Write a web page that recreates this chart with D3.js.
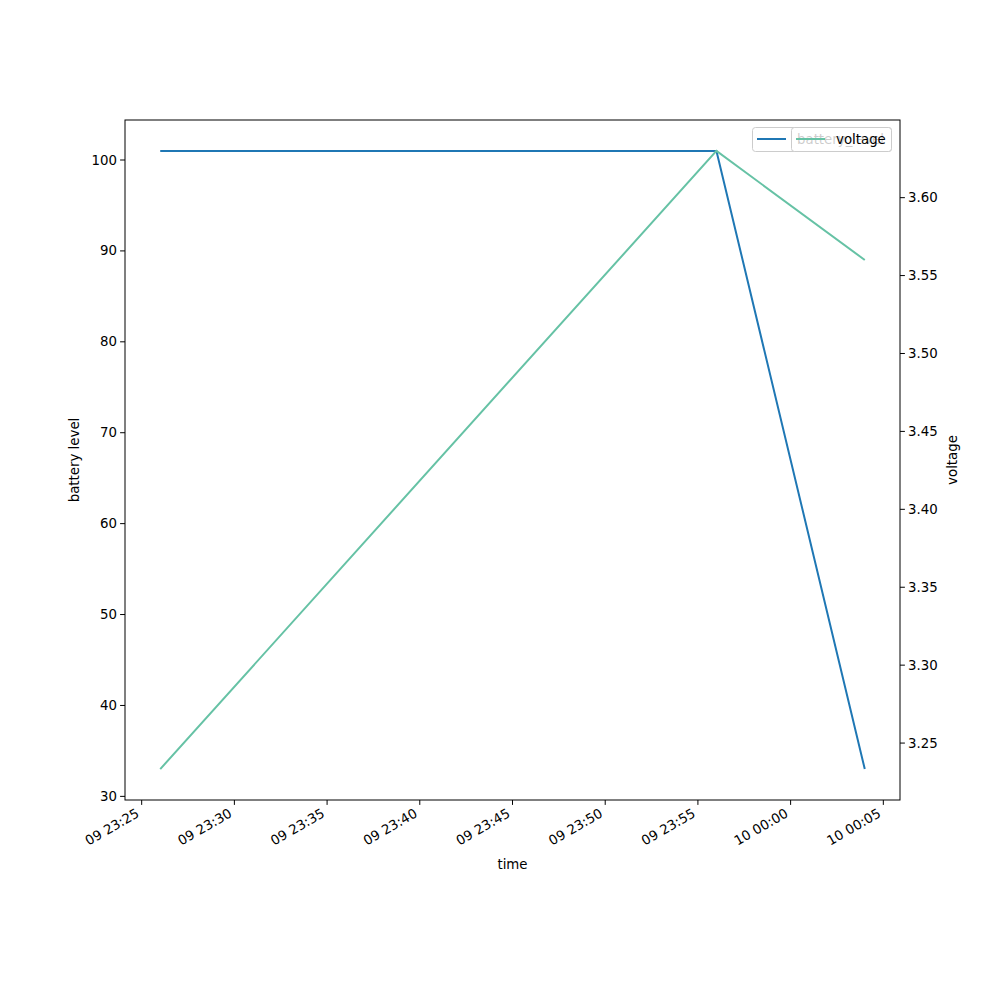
<!DOCTYPE html>
<html><head><meta charset="utf-8">
<script src="https://cdn.jsdelivr.net/npm/d3@7"></script>
<style>body{margin:0;background:#fff}svg{display:block}text{font-family:"DejaVu Sans",sans-serif}</style>
</head><body>
<svg id="c" width="1000" height="1000"></svg>
<script>
const times = ["2023-01-09T23:26:00","2023-01-09T23:56:00","2023-01-10T00:04:00"];
const batteryLevel = [101, 101, 33];
const voltage = [3.2333, 3.63, 3.56];
const xTicks = ["2023-01-09T23:25:00","2023-01-09T23:30:00","2023-01-09T23:35:00","2023-01-09T23:40:00","2023-01-09T23:45:00","2023-01-09T23:50:00","2023-01-09T23:55:00","2023-01-10T00:00:00","2023-01-10T00:05:00"];
const leftTicks = [30,40,50,60,70,80,90,100];
const rightTicks = [3.25,3.30,3.35,3.40,3.45,3.50,3.55,3.60];

const parse = d3.isoParse;
const T = times.map(parse);
const L = 125, R = 900, Tp = 120, B = 800;
const svg = d3.select("#c");
const fs = 13.33;

function pad(ext){const r=ext[1]-ext[0];return [ext[0]-0.05*r, ext[1]+0.05*r];}
const x = d3.scaleTime().domain(pad(d3.extent(T).map(Number)).map(v=>new Date(v))).range([L,R]);
const yL = d3.scaleLinear().domain(pad(d3.extent(batteryLevel))).range([B,Tp]);
const yR = d3.scaleLinear().domain(pad(d3.extent(voltage))).range([B,Tp]);

const blue = "#1f77b4", green = "#66c2a5";

// lines
const data = T.map((t,i)=>({t, b:batteryLevel[i], v:voltage[i]}));
svg.append("path").datum(data).attr("fill","none").attr("stroke",blue).attr("stroke-width",2)
  .attr("d", d3.line().x(d=>x(d.t)).y(d=>yL(d.b)));
svg.append("path").datum(data).attr("fill","none").attr("stroke",green).attr("stroke-width",2)
  .attr("d", d3.line().x(d=>x(d.t)).y(d=>yR(d.v)));

// frame
svg.append("rect").attr("x",L).attr("y",Tp).attr("width",R-L).attr("height",B-Tp)
  .attr("fill","none").attr("stroke","#000").attr("stroke-width",1);

// x axis
const fmt = d3.timeFormat("%d %H:%M");
const xg = svg.append("g");
xTicks.map(parse).forEach(t=>{
  const px = x(t);
  xg.append("line").attr("x1",px).attr("x2",px).attr("y1",B).attr("y2",B+4.9).attr("stroke","#000");
  xg.append("text").attr("transform",`translate(${px-1.5},${B+16}) rotate(-30)`)
    .attr("text-anchor","end").attr("font-size",fs).text(fmt(t));
});
svg.append("text").attr("x",(L+R)/2).attr("y",869).attr("text-anchor","middle").attr("font-size",fs).text("time");

// left axis
leftTicks.forEach(v=>{
  const py = yL(v);
  svg.append("line").attr("x1",L-4.9).attr("x2",L).attr("y1",py).attr("y2",py).attr("stroke","#000");
  svg.append("text").attr("x",L-8).attr("y",py).attr("text-anchor","end").attr("dominant-baseline","central").attr("font-size",fs).text(v);
});
svg.append("text").attr("transform",`translate(79,${(Tp+B)/2}) rotate(-90)`).attr("text-anchor","middle").attr("font-size",fs).text("battery level");

// right axis
rightTicks.forEach(v=>{
  const py = yR(v);
  svg.append("line").attr("x1",R).attr("x2",R+4.9).attr("y1",py).attr("y2",py).attr("stroke","#000");
  svg.append("text").attr("x",R+8).attr("y",py).attr("text-anchor","start").attr("dominant-baseline","central").attr("font-size",fs).text(v.toFixed(2));
});
svg.append("text").attr("transform",`translate(957,${(Tp+B)/2}) rotate(-90)`).attr("text-anchor","middle").attr("font-size",fs).text("voltage");

// legend 1 (battery)
const lg1 = svg.append("g");
lg1.append("rect").attr("x",752.5).attr("y",127.5).attr("width",139).attr("height",24).attr("rx",3)
  .attr("fill","#fff").attr("fill-opacity",0.8).attr("stroke","#ccc");
lg1.append("line").attr("x1",757).attr("x2",786).attr("y1",139).attr("y2",139).attr("stroke",blue).attr("stroke-width",2);
lg1.append("text").attr("x",797).attr("y",139).attr("dominant-baseline","central").attr("font-size",fs).text("battery_level");
// legend 2 (voltage)
const lg2 = svg.append("g");
lg2.append("rect").attr("x",791.5).attr("y",127.5).attr("width",100).attr("height",24).attr("rx",3)
  .attr("fill","#fff").attr("fill-opacity",0.8).attr("stroke","#ccc");
lg2.append("line").attr("x1",796).attr("x2",825).attr("y1",139).attr("y2",139).attr("stroke",green).attr("stroke-width",2);
lg2.append("text").attr("x",836).attr("y",139).attr("dominant-baseline","central").attr("font-size",fs).text("voltage");
</script>
</body></html>
